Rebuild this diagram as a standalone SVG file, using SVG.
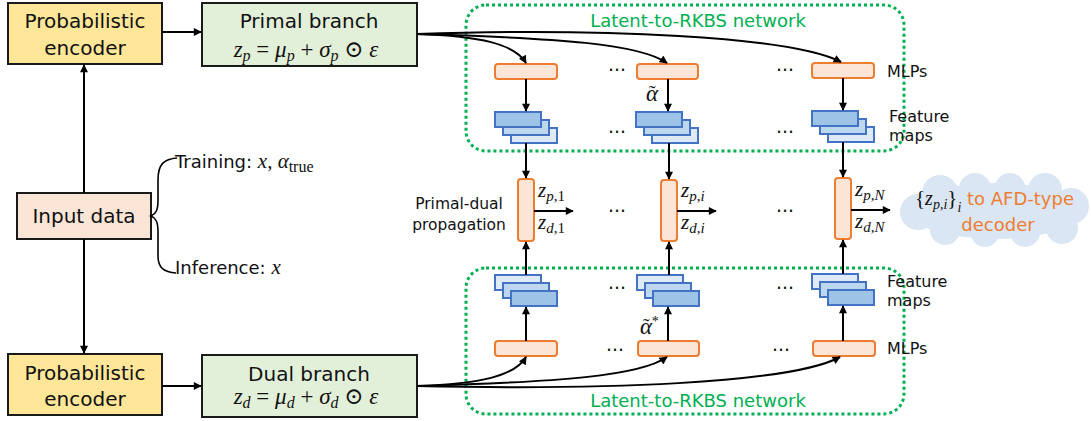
<svg xmlns="http://www.w3.org/2000/svg" width="1091" height="421" viewBox="0 0 1091 421">
<defs>
<marker id="ah" viewBox="0 0 10 10" refX="9" refY="5" markerWidth="9" markerHeight="8" markerUnits="userSpaceOnUse" orient="auto"><path d="M0,0 L10,5 L0,10 z" fill="#000"/></marker>
<style>
.box{stroke:#1a1a1a;stroke-width:2}
.enc{fill:#FFE699}
.br{fill:#E2F0D9}
.inp{fill:#FBE5D6}
.t{font-family:"DejaVu Sans",Verdana,sans-serif;fill:#111}
.m{font-family:"Liberation Serif","DejaVu Serif",serif;font-style:italic;fill:#111}
.r{font-style:normal}
.mlp{fill:#FBE5D6;stroke:#ED7D31;stroke-width:2}
.fd{fill:#9DC3E6;stroke:#4472C4;stroke-width:2}
.fm{fill:#BDD7EE;stroke:#4472C4;stroke-width:2}
.fl{fill:#DEEBF7;stroke:#4472C4;stroke-width:2}
.net{fill:none;stroke:#00B050;stroke-width:3;stroke-dasharray:3 3}
.gl{font-family:"DejaVu Sans",Verdana,sans-serif;fill:#00B050;font-size:18px}
.c{fill:none;stroke:#000;stroke-width:2;marker-end:url(#ah)}
.dots{font-family:"DejaVu Sans",sans-serif;font-size:19px;fill:#111}
.cl{fill:#DAE6F4}
.ot{font-family:"DejaVu Sans",Verdana,sans-serif;fill:#ED7D31;font-size:18px}
</style>
</defs>
<rect width="1091" height="421" fill="#fff"/>

<g id="net-top"><rect class="net" x="466" y="5" width="438" height="146" rx="20"/><text class="gl" x="698" y="27" text-anchor="middle">Latent-to-RKBS network</text></g>
<g id="net-bottom"><rect class="net" x="466" y="268" width="438" height="146" rx="20"/><text class="gl" x="698" y="407" text-anchor="middle">Latent-to-RKBS network</text></g>

<g id="enc-top"><rect class="box enc" x="8" y="3" width="154" height="61"/><text class="t" font-size="20" x="85" y="28" text-anchor="middle">Probabilistic</text><text class="t" font-size="20" x="85" y="55" text-anchor="middle">encoder</text></g>
<g id="primal"><rect class="box br" x="202" y="3" width="215" height="63"/><text class="t" font-size="20" x="309" y="28" text-anchor="middle">Primal branch</text>
<text class="m" font-size="23" x="306" y="57" text-anchor="middle">z<tspan dy="4" font-size="16">p</tspan><tspan dy="-4" class="r"> = </tspan>μ<tspan dy="4" font-size="16">p</tspan><tspan dy="-4" class="r"> + </tspan>σ<tspan dy="4" font-size="16">p</tspan><tspan dy="-4" class="r"> ⊙ </tspan>ε</text></g>

<g id="input"><rect class="box inp" x="17" y="193" width="134" height="46"/><text class="t" font-size="20" x="84" y="223" text-anchor="middle">Input data</text></g>
<g id="modes">
<path d="M177,158 C164,159 158,164 158,180 L158,200 C158,210 156,214 151,216 C156,218 158,222 158,232 L158,256 C158,268 164,272 176,273" fill="none" stroke="#000" stroke-width="1.6"/>
<text x="175" y="168"><tspan class="t" font-size="18">Training: </tspan><tspan class="m" font-size="21">x</tspan><tspan class="m r" font-size="21">, </tspan><tspan class="m" font-size="21">α</tspan><tspan class="m r" font-size="16" dy="4">true</tspan></text>
<text x="175" y="274"><tspan class="t" font-size="18">Inference: </tspan><tspan class="m" font-size="21">x</tspan></text>
</g>

<g id="enc-bottom"><rect class="box enc" x="8" y="354" width="154" height="61"/><text class="t" font-size="20" x="85" y="380" text-anchor="middle">Probabilistic</text><text class="t" font-size="20" x="85" y="406" text-anchor="middle">encoder</text></g>
<g id="dual"><rect class="box br" x="202" y="355" width="215" height="62"/><text class="t" font-size="20" x="309" y="381" text-anchor="middle">Dual branch</text>
<text class="m" font-size="23" x="306" y="404" text-anchor="middle">z<tspan dy="4" font-size="16">d</tspan><tspan dy="-4" class="r"> = </tspan>μ<tspan dy="4" font-size="16">d</tspan><tspan dy="-4" class="r"> + </tspan>σ<tspan dy="4" font-size="16">d</tspan><tspan dy="-4" class="r"> ⊙ </tspan>ε</text></g>

<g id="mlp-top">
<rect class="mlp" x="495" y="64" width="62" height="15" rx="3"/>
<rect class="mlp" x="637" y="64" width="61" height="15" rx="3"/>
<rect class="mlp" x="812" y="63" width="62" height="15" rx="3"/>
<text class="t" font-size="16" x="887" y="77">MLPs</text>
</g>
<g id="feat-top">
<rect class="fl" x="511" y="128" width="46" height="15"/><rect class="fm" x="503" y="120" width="46" height="15"/><rect class="fd" x="495" y="112" width="46" height="15"/>
<rect class="fl" x="652" y="128" width="46" height="15"/><rect class="fm" x="644" y="120" width="46" height="15"/><rect class="fd" x="636" y="112" width="46" height="15"/>
<rect class="fl" x="828" y="127" width="46" height="15"/><rect class="fm" x="820" y="119" width="46" height="15"/><rect class="fd" x="812" y="111" width="46" height="15"/>
<text class="t" font-size="16" x="889" y="122">Feature</text><text class="t" font-size="16" x="889" y="141">maps</text>
</g>
<g id="pd">
<rect class="mlp" x="518" y="179" width="16" height="62" rx="3"/>
<rect class="mlp" x="661" y="180" width="16" height="61" rx="3"/>
<rect class="mlp" x="835" y="178" width="16" height="61" rx="3"/>
<text class="t" font-size="15.5" x="459" y="209" text-anchor="middle">Primal-dual</text>
<text class="t" font-size="15.5" x="459" y="230" text-anchor="middle">propagation</text>
<text class="m" font-size="21" x="538" y="197">z<tspan font-size="15" dy="4">p</tspan><tspan font-size="15" class="r">,1</tspan></text>
<text class="m" font-size="21" x="538" y="229">z<tspan font-size="15" dy="4">d</tspan><tspan font-size="15" class="r">,1</tspan></text>
<text class="m" font-size="21" x="681" y="197">z<tspan font-size="15" dy="4">p,i</tspan></text>
<text class="m" font-size="21" x="681" y="229">z<tspan font-size="15" dy="4">d,i</tspan></text>
<text class="m" font-size="21" x="855" y="196">z<tspan font-size="15" dy="4">p,N</tspan></text>
<text class="m" font-size="21" x="855" y="228">z<tspan font-size="15" dy="4">d,N</tspan></text>
</g>
<g id="feat-bottom">
<rect class="fl" x="495" y="275" width="46" height="15"/><rect class="fm" x="503" y="283" width="46" height="15"/><rect class="fd" x="511" y="291" width="46" height="15"/>
<rect class="fl" x="637" y="275" width="46" height="15"/><rect class="fm" x="645" y="283" width="46" height="15"/><rect class="fd" x="653" y="291" width="46" height="15"/>
<rect class="fl" x="812" y="274" width="46" height="15"/><rect class="fm" x="820" y="282" width="46" height="15"/><rect class="fd" x="828" y="290" width="46" height="15"/>
<text class="t" font-size="16" x="887" y="287">Feature</text><text class="t" font-size="16" x="887" y="306">maps</text>
</g>
<g id="mlp-bottom">
<rect class="mlp" x="495" y="341" width="62" height="15" rx="3"/>
<rect class="mlp" x="638" y="341" width="61" height="15" rx="3"/>
<rect class="mlp" x="813" y="341" width="62" height="15" rx="3"/>
<text class="t" font-size="16" x="887" y="354">MLPs</text>
</g>
<g id="dots">
<text class="dots" x="617" y="77" text-anchor="middle">···</text><text class="dots" x="785" y="77" text-anchor="middle">···</text>
<text class="dots" x="617" y="139" text-anchor="middle">···</text><text class="dots" x="785" y="139" text-anchor="middle">···</text>
<text class="dots" x="617" y="218" text-anchor="middle">···</text><text class="dots" x="785" y="218" text-anchor="middle">···</text>
<text class="dots" x="617" y="295" text-anchor="middle">···</text><text class="dots" x="785" y="295" text-anchor="middle">···</text>
<text class="dots" x="615" y="357" text-anchor="middle">···</text><text class="dots" x="781" y="357" text-anchor="middle">···</text>
</g>
<g id="alphas">
<text class="m" font-size="23" x="646" y="101">α<tspan class="r" font-size="20" dx="-9" dy="-1">˜</tspan></text>
<text class="m" font-size="23" x="640" y="334">α<tspan class="r" font-size="20" dx="-9" dy="-1">˜</tspan><tspan class="r" font-size="14" dx="2" dy="-7">*</tspan></text>
</g>
<g id="cloud">
<ellipse class="cl" cx="995" cy="211" rx="86" ry="28"/>
<circle class="cl" cx="918" cy="212" r="18"/><circle class="cl" cx="940" cy="193" r="18"/><circle class="cl" cx="975" cy="189" r="16"/>
<circle class="cl" cx="1010" cy="188" r="15"/><circle class="cl" cx="1045" cy="190" r="17"/><circle class="cl" cx="1071" cy="206" r="18"/>
<circle class="cl" cx="1062" cy="228" r="16"/><circle class="cl" cx="1025" cy="232" r="15"/><circle class="cl" cx="985" cy="233" r="14"/><circle class="cl" cx="945" cy="230" r="15"/>
<text x="915" y="205"><tspan class="m r" font-size="21" fill="#ED7D31">{</tspan><tspan class="m" font-size="20" fill="#ED7D31">z</tspan><tspan class="m" font-size="14" dy="4" fill="#ED7D31">p,i</tspan><tspan class="m r" font-size="21" dy="-4" fill="#ED7D31">}</tspan><tspan class="m" font-size="14" dy="7" fill="#ED7D31">i</tspan><tspan class="ot" dy="-7"> to AFD-type</tspan></text>
<text class="ot" x="998" y="231" text-anchor="middle">decoder</text>
</g>

<g id="connectors">
<line class="c" x1="162" y1="32" x2="201" y2="32"/>
<line class="c" x1="162" y1="386" x2="201" y2="386"/>
<line class="c" x1="84" y1="193" x2="84" y2="65"/>
<line class="c" x1="84" y1="239" x2="84" y2="353"/>
<path class="c" d="M417,34 C480,36 515,44 526,63"/>
<path class="c" d="M417,34 C560,38 640,44 667,63"/>
<path class="c" d="M417,34 C600,28 790,36 841,62"/>
<path class="c" d="M417,386 C480,384 515,376 526,357"/>
<path class="c" d="M417,386 C560,382 640,376 667,357"/>
<path class="c" d="M417,386 C600,390 790,384 840,357"/>
<line class="c" x1="526" y1="79" x2="526" y2="111"/>
<line class="c" x1="668" y1="79" x2="668" y2="111"/>
<line class="c" x1="843" y1="78" x2="843" y2="110"/>
<line class="c" x1="526" y1="143" x2="526" y2="178"/>
<line class="c" x1="669" y1="143" x2="669" y2="179"/>
<line class="c" x1="843" y1="142" x2="843" y2="177"/>
<line class="c" x1="526" y1="275" x2="526" y2="242"/>
<line class="c" x1="669" y1="275" x2="669" y2="242"/>
<line class="c" x1="843" y1="274" x2="843" y2="240"/>
<line class="c" x1="526" y1="341" x2="526" y2="307"/>
<line class="c" x1="668" y1="341" x2="668" y2="307"/>
<line class="c" x1="843" y1="341" x2="843" y2="306"/>
<line class="c" x1="534" y1="211" x2="573" y2="211"/>
<line class="c" x1="677" y1="211" x2="716" y2="211"/>
<line class="c" x1="851" y1="210" x2="890" y2="210"/>
</g>
</svg>
